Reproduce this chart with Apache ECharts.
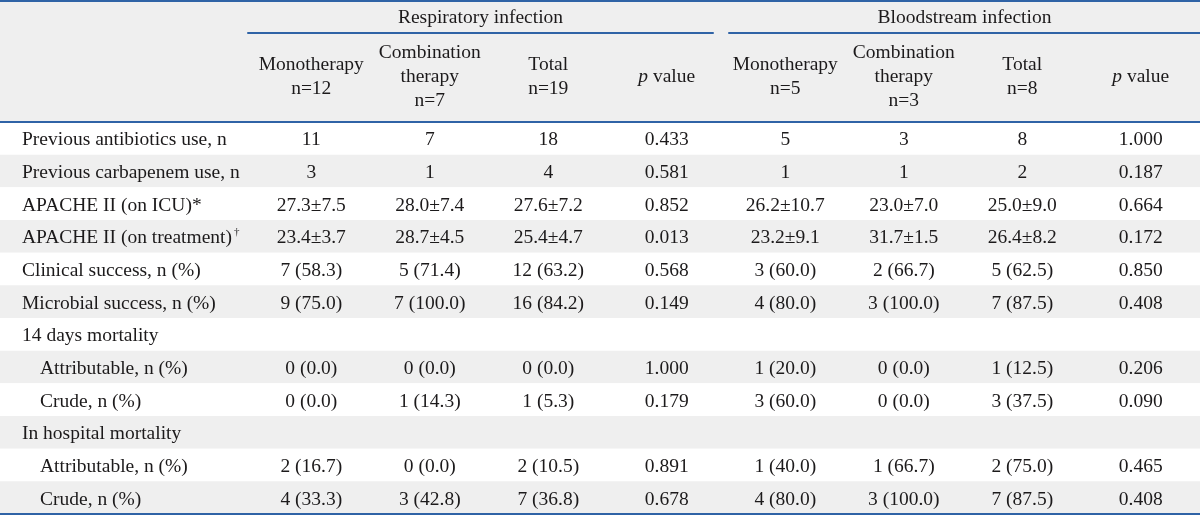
<!DOCTYPE html>
<html>
<head>
<meta charset="utf-8">
<script src="https://cdn.jsdelivr.net/npm/echarts@6/dist/echarts.min.js"></script>
<style>html,body{margin:0;padding:0;background:#fff}#c{width:1200px;height:516px}</style>
</head>
<body>
<div id="c"></div>
<script>
const groups = ['Respiratory infection', 'Bloodstream infection'];
const colHeaders = ['Monotherapy\nn=12', 'Combination\ntherapy\nn=7', 'Total\nn=19', 'p value',
                    'Monotherapy\nn=5', 'Combination\ntherapy\nn=3', 'Total\nn=8', 'p value'];
const rowLabels = ['Previous antibiotics use, n', 'Previous carbapenem use, n', 'APACHE II (on ICU)*',
  'APACHE II (on treatment)†', 'Clinical success, n (%)', 'Microbial success, n (%)', '14 days mortality',
  'Attributable, n (%)', 'Crude, n (%)', 'In hospital mortality', 'Attributable, n (%)', 'Crude, n (%)'];
const rowLevel = [0, 0, 0, 0, 0, 0, 0, 1, 1, 0, 1, 1];
const respMono  = ['11', '3', '27.3±7.5', '23.4±3.7', '7 (58.3)', '9 (75.0)', '', '0 (0.0)', '0 (0.0)', '', '2 (16.7)', '4 (33.3)'];
const respComb  = ['7', '1', '28.0±7.4', '28.7±4.5', '5 (71.4)', '7 (100.0)', '', '0 (0.0)', '1 (14.3)', '', '0 (0.0)', '3 (42.8)'];
const respTotal = ['18', '4', '27.6±7.2', '25.4±4.7', '12 (63.2)', '16 (84.2)', '', '0 (0.0)', '1 (5.3)', '', '2 (10.5)', '7 (36.8)'];
const respP     = ['0.433', '0.581', '0.852', '0.013', '0.568', '0.149', '', '1.000', '0.179', '', '0.891', '0.678'];
const bloodMono  = ['5', '1', '26.2±10.7', '23.2±9.1', '3 (60.0)', '4 (80.0)', '', '1 (20.0)', '3 (60.0)', '', '1 (40.0)', '4 (80.0)'];
const bloodComb  = ['3', '1', '23.0±7.0', '31.7±1.5', '2 (66.7)', '3 (100.0)', '', '0 (0.0)', '0 (0.0)', '', '1 (66.7)', '3 (100.0)'];
const bloodTotal = ['8', '2', '25.0±9.0', '26.4±8.2', '5 (62.5)', '7 (87.5)', '', '1 (12.5)', '3 (37.5)', '', '2 (75.0)', '7 (87.5)'];
const bloodP     = ['1.000', '0.187', '0.664', '0.172', '0.850', '0.408', '', '0.206', '0.090', '', '0.465', '0.408'];

const columnsData = [respMono, respComb, respTotal, respP, bloodMono, bloodComb, bloodTotal, bloodP];

const FONT = 'Liberation Serif';
const FS = 19.5;
const TXT = '#1c1a1b';
const BLUE = '#2f63a6';
const GRAY = '#efefef';

const colIdx = colHeaders.map((_, i) => i);
const rowIdx = rowLabels.map((_, i) => i);

const cells = [];
columnsData.forEach((col, c) => col.forEach((v, r) => { if (v !== '') cells.push([c, r, v]); }));

const hidden = { show: false };
function plainX(gridIndex, position, lineShow) {
  return {
    type: 'category', gridIndex: gridIndex, position: position, data: [''],
    axisLine: { show: lineShow, lineStyle: { color: BLUE, width: 2 } },
    axisTick: hidden, axisLabel: hidden, splitLine: hidden
  };
}
function plainY(gridIndex) {
  return { type: 'category', gridIndex: gridIndex, data: [''], show: false };
}

const chart = echarts.init(document.getElementById('c'), null, { renderer: 'canvas' });
chart.setOption({
  animation: false,
  backgroundColor: '#ffffff',
  textStyle: { fontFamily: FONT, color: TXT },
  grid: [
    { left: 0, right: 0, top: 1, height: 121, show: true, backgroundColor: GRAY, borderWidth: 0 },
    { left: 0, right: 0, top: 122, bottom: 2, show: false },
    { left: 252, right: -5, top: 122, bottom: 2, show: false },
    { left: 248, width: 465, top: 1, height: 32, show: false },
    { left: 729, right: 0, top: 1, height: 32, show: false }
  ],
  xAxis: [
    plainX(0, 'top', true),
    plainX(1, 'top', true),
    plainX(1, 'bottom', true),
    {
      type: 'category', gridIndex: 2, position: 'top', data: colIdx,
      axisLine: hidden, axisTick: hidden, splitLine: hidden,
      axisLabel: {
        interval: 0, margin: 45, verticalAlign: 'middle', align: 'center',
        fontFamily: FONT, fontSize: FS, lineHeight: 24, color: TXT,
        formatter: v => {
          const t = colHeaders[+v];
          return t.indexOf('p value') === 0 ? '{i|p} value' : t;
        },
        rich: { i: { fontStyle: 'italic', fontFamily: FONT, fontSize: FS, color: TXT } }
      }
    },
    {
      type: 'category', gridIndex: 3, position: 'bottom', data: [groups[0]],
      axisLine: { show: true, lineStyle: { color: BLUE, width: 2 } },
      axisTick: hidden, splitLine: hidden,
      axisLabel: { inside: true, margin: 15, verticalAlign: 'middle', fontFamily: FONT, fontSize: FS, color: TXT }
    },
    {
      type: 'category', gridIndex: 4, position: 'bottom', data: [groups[1]],
      axisLine: { show: true, lineStyle: { color: BLUE, width: 2 } },
      axisTick: hidden, splitLine: hidden,
      axisLabel: { inside: true, margin: 15, verticalAlign: 'middle', fontFamily: FONT, fontSize: FS, color: TXT }
    }
  ],
  yAxis: [
    plainY(0),
    {
      type: 'category', gridIndex: 1, data: rowIdx, inverse: true,
      axisLine: hidden, axisTick: hidden, splitLine: hidden,
      splitArea: { show: true, interval: 0, areaStyle: { color: ['#ffffff', GRAY] } },
      axisLabel: {
        inside: true, margin: 22, align: 'left', interval: 0,
        fontFamily: FONT, fontSize: FS, color: TXT,
        formatter: v => {
          const i = +v;
          let t = rowLabels[i];
          let sup = '';
          if (t.endsWith('†')) { t = t.slice(0, -1); sup = '{sup|†}'; }
          return (rowLevel[i] ? '{ind|' + t + '}' : '{n|' + t + '}') + sup;
        },
        rich: {
          n: { fontFamily: FONT, fontSize: FS, color: TXT, lineHeight: 24, padding: [4, 0, 0, 0] },
          ind: { fontFamily: FONT, fontSize: FS, color: TXT, lineHeight: 24, padding: [4, 0, 0, 18] },
          sup: { fontFamily: FONT, fontSize: 11, color: TXT, lineHeight: 14, verticalAlign: 'top', padding: [2, 0, 0, 2] }
        }
      }
    },
    { type: 'category', gridIndex: 2, data: rowIdx, inverse: true, show: false },
    plainY(3),
    plainY(4)
  ],
  series: [
    {
      type: 'scatter', xAxisIndex: 3, yAxisIndex: 2,
      data: cells, symbolSize: 1, itemStyle: { color: 'rgba(0,0,0,0)' },
      label: {
        show: true, position: 'inside', offset: [0, 2], fontFamily: FONT, fontSize: FS, color: TXT,
        textBorderWidth: 0, textBorderColor: 'transparent', opacity: 1,
        formatter: p => p.value[2]
      },
      emphasis: { disabled: true }, silent: true
    }
  ]
});
</script>
</body>
</html>
